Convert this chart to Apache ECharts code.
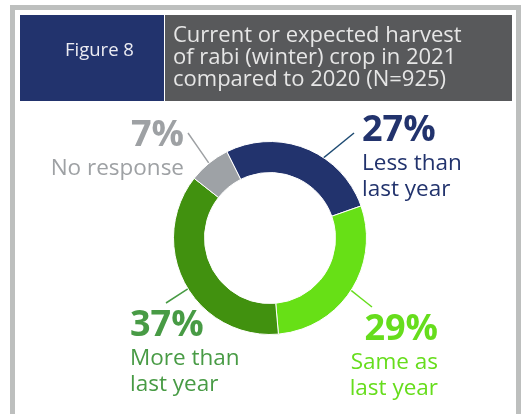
<!DOCTYPE html>
<html>
<head>
<meta charset="utf-8">
<script src="https://cdn.jsdelivr.net/npm/echarts@6/dist/echarts.min.js"></script>
<style>
  html, body { margin: 0; padding: 0; background: #ffffff; }
  #chart { width: 523px; height: 414px; }
</style>
</head>
<body>
<div id="chart"></div>
<script>
// Harvest of rabi (winter) crop in 2021 vs 2020, share of respondents
const categories = ['Less than\nlast year', 'Same as\nlast year', 'More than\nlast year', 'No response'];
const shares = [27, 29, 37, 7];
const sliceColors = ['#22336d', '#67e016', '#41910f', '#9ea2a6'];
const labelColors = ['#22336d', '#66dd1c', '#489b45', '#9ea1a4'];
const lineColors = ['#1d4a72', '#66dd1c', '#489b45', '#9ea1a4'];

const FONT = 'Open Sans';
const CENTER = [270, 238];
const RADIUS = [65.5, 96.5];
const START_ANGLE = 116.6;

// label block placement: anchor x, top y, alignment; guide line start (radius, angle shift) and end point
const labelPlace = [
  { x: 362, y: 111, align: 'left',  r: 82, shift: -8.6, end: [354, 133] },
  { x: 438, y: 310, align: 'right', r: 95, shift: 0,    end: [372, 307] },
  { x: 130, y: 306, align: 'left',  r: 68, shift: 3,    end: [166, 303] },
  { x: 184, y: 116, align: 'right', r: 97, shift: 0,    end: [188, 133] }
];

// mid angle of each slice (degrees, counter-clockwise from 3 o'clock)
const total = shares.reduce((a, b) => a + b, 0);
const midAngles = [];
let acc = START_ANGLE;
shares.forEach(v => {
  const span = v / total * 360;
  midAngles.push(acc - span / 2);
  acc -= span;
});

function polar(r, deg) {
  const a = deg * Math.PI / 180;
  return [CENTER[0] + r * Math.cos(a), CENTER[1] - r * Math.sin(a)];
}

const chart = echarts.init(document.getElementById('chart'), null, { renderer: 'canvas' });

chart.setOption({
  backgroundColor: '#ffffff',
  animation: false,
  title: [
    {
      text: 'Figure 8',
      left: 65, top: 40, padding: 0,
      textStyle: { color: '#ececf2', fontFamily: FONT, fontSize: 18.5, fontWeight: 'normal', lineHeight: 22 }
    },
    {
      text: 'Current or expected harvest\nof rabi (winter) crop in 2021\ncompared to 2020 (N=925)',
      left: 173, top: 24.5, padding: 0,
      textStyle: { color: '#e6e6e6', fontFamily: FONT, fontSize: 22, fontWeight: 'normal', lineHeight: 22 }
    }
  ],
  graphic: [
    { type: 'rect', z: -10, shape: { x: 12.5, y: 7.5, width: 506, height: 430 },
      style: { fill: '#ffffff', stroke: '#bdbfbe', lineWidth: 5 } },
    { type: 'rect', z: -9, shape: { x: 20, y: 15, width: 144, height: 86 }, style: { fill: '#22336d' } },
    { type: 'rect', z: -9, shape: { x: 165, y: 15, width: 347, height: 86 }, style: { fill: '#58595b' } }
  ],
  series: [{
    type: 'pie',
    center: CENTER,
    radius: RADIUS,
    startAngle: START_ANGLE,
    clockwise: true,
    avoidLabelOverlap: false,
    itemStyle: { borderColor: '#ffffff', borderWidth: 1 },
    label: {
      show: true,
      position: 'outside',
      fontFamily: FONT,
      formatter: p => '{pct|' + p.value + '%}\n{name|' + p.name + '}',
      rich: {
        pct: { fontFamily: FONT, fontSize: 36, fontWeight: 'bold', lineHeight: 40 },
        name: { fontFamily: FONT, fontSize: 22.5, lineHeight: 26 }
      }
    },
    labelLine: { show: true, lineStyle: { width: 1.5 } },
    labelLayout: function (params) {
      const i = params.dataIndex;
      const L = labelPlace[i];
      const s = polar(L.r, midAngles[i] + L.shift);
      const m = [(s[0] + L.end[0]) / 2, (s[1] + L.end[1]) / 2];
      return {
        x: L.x, y: L.y, align: L.align, verticalAlign: 'top',
        labelLinePoints: [s, m, L.end]
      };
    },
    emphasis: { disabled: true },
    data: categories.map((name, i) => ({
      name: name,
      value: shares[i],
      itemStyle: { color: sliceColors[i] },
      label: { color: labelColors[i] },
      labelLine: { lineStyle: { color: lineColors[i] } }
    }))
  }]
});
</script>
</body>
</html>
